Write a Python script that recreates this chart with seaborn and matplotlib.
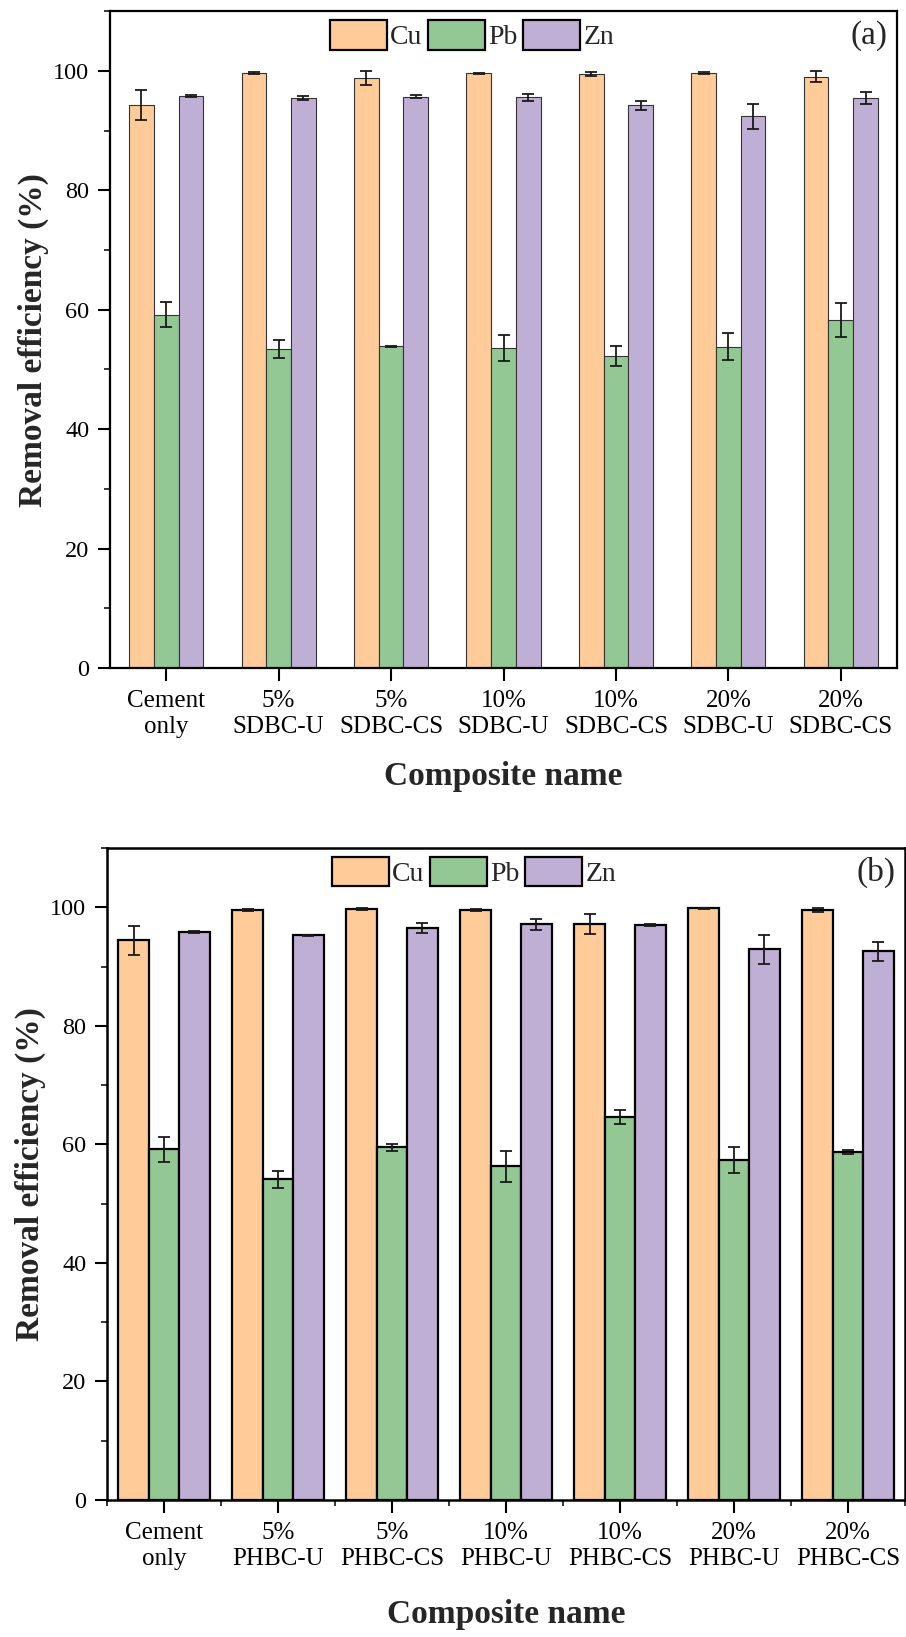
import numpy as np
import pandas as pd
import matplotlib
matplotlib.use("Agg")
import matplotlib.pyplot as plt
import seaborn as sns
from matplotlib.ticker import MultipleLocator, FixedLocator

# ---------------- data ----------------
metals = ["Cu", "Pb", "Zn"]
colors = ["#FECB99", "#93C794", "#C0AFD4"]

cats_a = ["Cement\nonly", "5%\nSDBC-U", "5%\nSDBC-CS", "10%\nSDBC-U",
          "10%\nSDBC-CS", "20%\nSDBC-U", "20%\nSDBC-CS"]
cu_a = [94.3, 99.6, 98.8, 99.6, 99.5, 99.6, 99.0]
cu_a_err = [2.5, 0.15, 1.1, 0.1, 0.3, 0.15, 0.9]
pb_a = [59.2, 53.4, 53.9, 53.6, 52.2, 53.8, 58.3]
pb_a_err = [2.1, 1.5, 0.1, 2.2, 1.7, 2.3, 2.8]
zn_a = [95.8, 95.5, 95.7, 95.6, 94.2, 92.4, 95.4]
zn_a_err = [0.2, 0.3, 0.3, 0.6, 0.8, 2.1, 1.0]

cats_b = ["Cement\nonly", "5%\nPHBC-U", "5%\nPHBC-CS", "10%\nPHBC-U",
          "10%\nPHBC-CS", "20%\nPHBC-U", "20%\nPHBC-CS"]
cu_b = [94.4, 99.55, 99.7, 99.55, 97.2, 99.8, 99.55]
cu_b_err = [2.5, 0.1, 0.2, 0.1, 1.7, 0.05, 0.3]
pb_b = [59.2, 54.1, 59.5, 56.3, 64.6, 57.3, 58.7]
pb_b_err = [2.1, 1.4, 0.6, 2.6, 1.2, 2.2, 0.4]
zn_b = [95.8, 95.3, 96.5, 97.1, 97.0, 92.9, 92.6]
zn_b_err = [0.2, 0.1, 0.9, 0.9, 0.1, 2.5, 1.6]

y_ticks = [0, 20, 40, 60, 80, 100]


def long_df(cats, vals, errs):
    rows = []
    for m, v, e in zip(metals, vals, errs):
        for c, vv, ee in zip(cats, v, e):
            rows.append({"Composite": c, "Metal": m, "value": vv, "err": ee})
    return pd.DataFrame(rows)


sns.set_style("ticks")
plt.rcParams["font.family"] = ["Liberation Serif", "DejaVu Serif"]
plt.rcParams["mathtext.fontset"] = "stix"

fig = plt.figure(figsize=(9.06, 16.37), dpi=100)
ax_a = fig.add_axes([0.1214, 0.5919, 0.8687, 0.4013])
ax_b = fig.add_axes([0.1181, 0.0837, 0.8808, 0.3983])


def draw(ax, cats, vals, errs, width, edge_lw, edge_col, spine_lw, tag,
         tick_fs, minor_x, xpad):
    df = long_df(cats, vals, errs)
    sns.barplot(data=df, x="Composite", y="value", hue="Metal",
                order=cats, hue_order=metals, palette=colors,
                width=width, gap=0, errorbar=None, edgecolor=edge_col,
                linewidth=edge_lw, saturation=1, ax=ax)
    # error bars at the centres of the bars that seaborn drew
    for cont, m in zip(ax.containers, metals):
        sub = df[df["Metal"] == m].set_index("Composite").loc[cats]
        xs = [p.get_x() + p.get_width() / 2 for p in cont.patches]
        ys = [p.get_height() for p in cont.patches]
        ax.errorbar(xs, ys, yerr=sub["err"].values, fmt="none",
                    ecolor="#1a1a1a", elinewidth=1.3, capsize=4.5,
                    capthick=1.3, zorder=5)
    handles, labels = ax.get_legend_handles_labels()
    if ax.get_legend() is not None:
        ax.get_legend().remove()
    leg = ax.legend(handles[:3], labels[:3], ncol=3, loc="center",
                    bbox_to_anchor=(0.46, 0.963), frameon=False,
                    fontsize=20, handlelength=2.05, handleheight=1.25,
                    handletextpad=0.12, columnspacing=0.2, borderpad=0)
    for h in leg.legend_handles:
        h.set_edgecolor("black")
        h.set_linewidth(1.6)
    ax.text(0.988, 0.963, tag, transform=ax.transAxes, ha="right",
            va="center", fontsize=24)

    ax.set_ylim(0, 110)
    ax.set_xlim(-0.5, 6.5)
    ax.yaxis.set_major_locator(FixedLocator(y_ticks))
    ax.yaxis.set_minor_locator(MultipleLocator(10))
    if minor_x:
        ax.xaxis.set_minor_locator(FixedLocator(np.arange(-0.5, 7.0, 1.0)))
    ax.tick_params(axis="both", which="major", direction="out", length=9,
                   width=1.5, colors="black")
    ax.tick_params(axis="y", which="major", pad=6, labelsize=17.5)
    ax.tick_params(axis="x", which="major", pad=7, labelsize=tick_fs)
    ax.tick_params(axis="both", which="minor", direction="out", length=4,
                   width=1.3)
    for lbl in ax.get_xticklabels():
        lbl.set_linespacing(1.2)
    for s in ax.spines.values():
        s.set_visible(True)
        s.set_linewidth(spine_lw)
        s.set_color("black")
    ax.set_xlabel("Composite name", fontsize=24, fontweight="bold",
                  labelpad=xpad)
    ax.set_ylabel("Removal efficiency (%)", fontsize=24, fontweight="bold",
                  labelpad=3)


draw(ax_a, cats_a, [cu_a, pb_a, zn_a], [cu_a_err, pb_a_err, zn_a_err],
     width=0.66, edge_lw=0.8, edge_col="#333333", spine_lw=1.6, tag="(a)",
     tick_fs=18, minor_x=False, xpad=17)
draw(ax_b, cats_b, [cu_b, pb_b, zn_b], [cu_b_err, pb_b_err, zn_b_err],
     width=0.8, edge_lw=1.6, edge_col="black", spine_lw=1.8, tag="(b)",
     tick_fs=18, minor_x=True, xpad=21)

fig.savefig("out.png", dpi=100)
